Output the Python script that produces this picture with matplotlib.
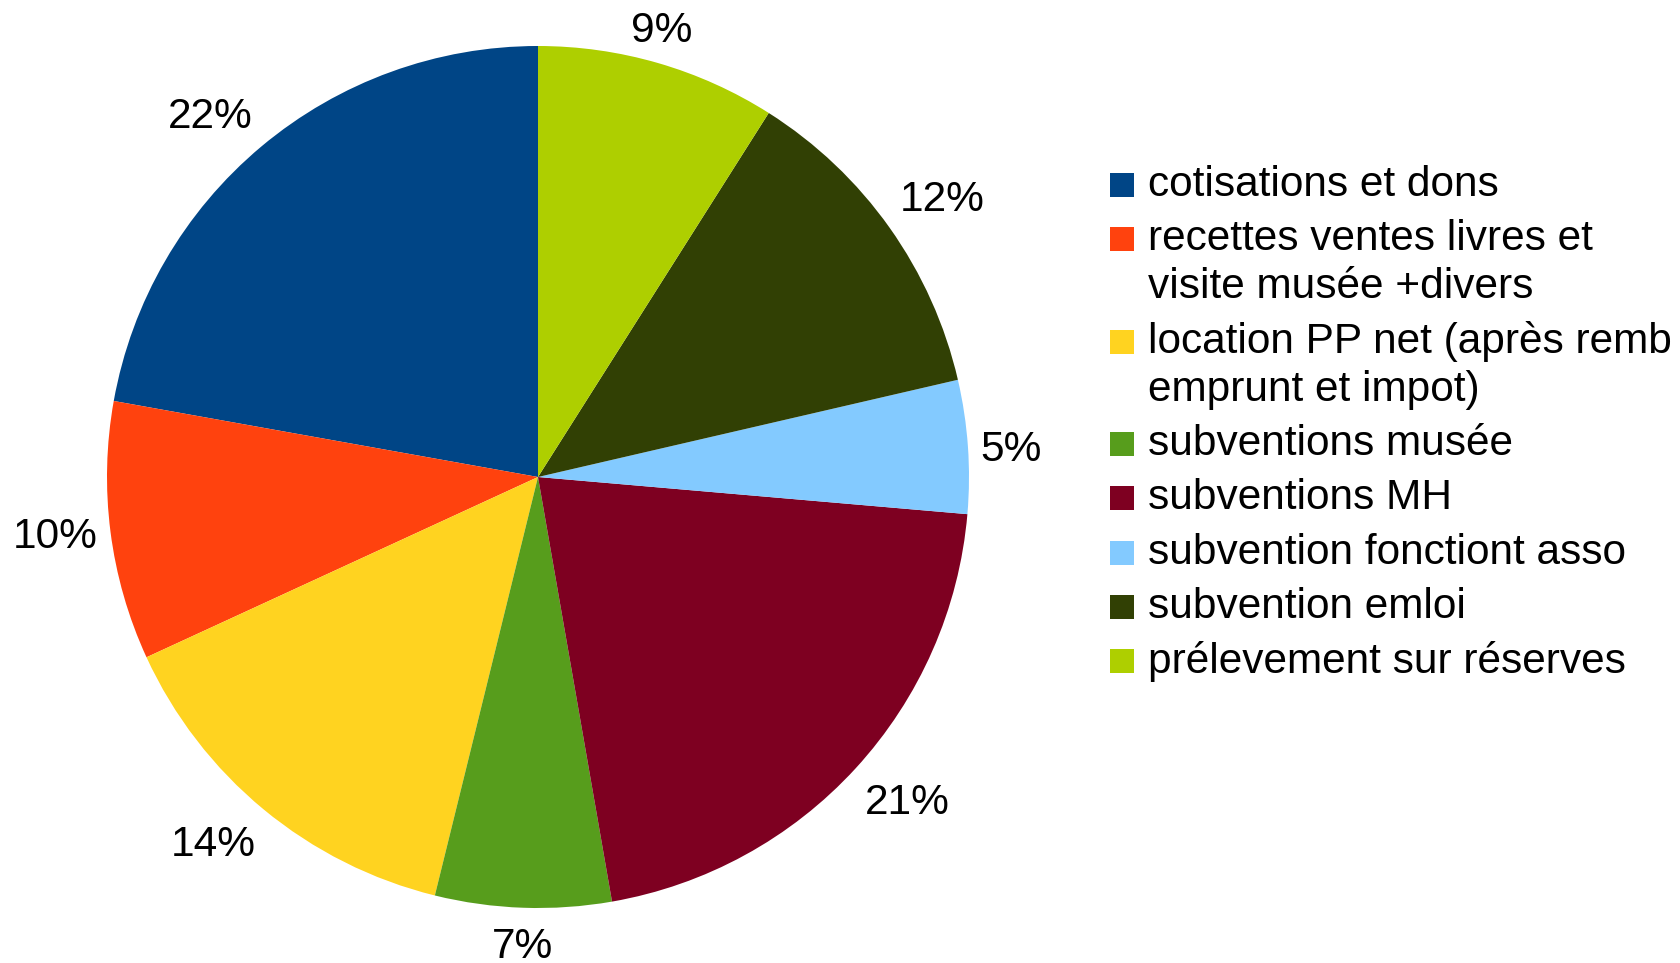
import numpy as np
import matplotlib
matplotlib.use("Agg")
import matplotlib.pyplot as plt
from matplotlib.patches import Rectangle

plt.rcParams['font.family'] = ['Liberation Sans', 'DejaVu Sans']

categories = [
    "cotisations et dons",
    "recettes ventes livres et\nvisite musée +divers",
    "location PP net (après remb\nemprunt et impot)",
    "subventions musée",
    "subventions MH",
    "subvention fonctiont asso",
    "subvention emloi",
    "prélevement sur réserves",
]
values = [22.2, 9.7, 14.3, 6.6, 20.9, 5.0, 12.4, 9.0]
colors = ["#004586", "#ff420e", "#ffd320", "#579d1c",
          "#7e0021", "#83caff", "#314004", "#aecf00"]

FS = 30.5
W, H = 1681, 963
fig = plt.figure(figsize=(W / 100, H / 100), dpi=100)

# pie axes: centre (538, 477) px, radius 431 px
cx, cy, R = 538, 477, 431
ax = fig.add_axes([(cx - R) / W, (H - cy - R) / H, 2 * R / W, 2 * R / H])
wedges, _ = ax.pie(values, colors=colors, startangle=90, counterclock=True,
                   radius=1.0, wedgeprops=dict(linewidth=0))
ax.set_xlim(-1, 1)
ax.set_ylim(-1, 1)
ax.set_aspect('equal')
ax.axis('off')

total = sum(values)
thr = np.sin(np.deg2rad(22.5))
for w, v in zip(wedges, values):
    pct = v / total * 100
    lab = f"{pct:.0f}%"
    ang = np.deg2rad((w.theta1 + w.theta2) / 2)
    c, s = np.cos(ang), np.sin(ang)
    ha = 'left' if c > thr else ('right' if c < -thr else 'center')
    va = 'bottom' if s > thr else ('top' if s < -thr else 'center')
    dy = {'bottom': 0, 'top': -6, 'center': -4}[va]
    r = 1.03
    ax.annotate(lab, xy=(r * c, r * s), xytext=(0, dy),
                textcoords='offset pixels', fontsize=FS, ha=ha, va=va,
                color='black', annotation_clip=False)

# legend drawn manually
x_box, box = 1110, 24
x_text = 1148
y = 185.0
line_step = 48.0
entry_step = 54.3
for cat, col in zip(categories, colors):
    lines = cat.split("\n")
    fig.patches.append(Rectangle(((x_box) / W, (H - y - box / 2) / H), box / W, box / H,
                                 transform=fig.transFigure, facecolor=col,
                                 edgecolor='none'))
    for i, ln in enumerate(lines):
        yy = y + i * line_step
        fig.text(x_text / W, (H - yy) / H, ln, fontsize=FS, ha='left',
                 va='center', color='black')
    y += (len(lines) - 1) * line_step + entry_step

fig.savefig("out.png", dpi=100, facecolor='white')
